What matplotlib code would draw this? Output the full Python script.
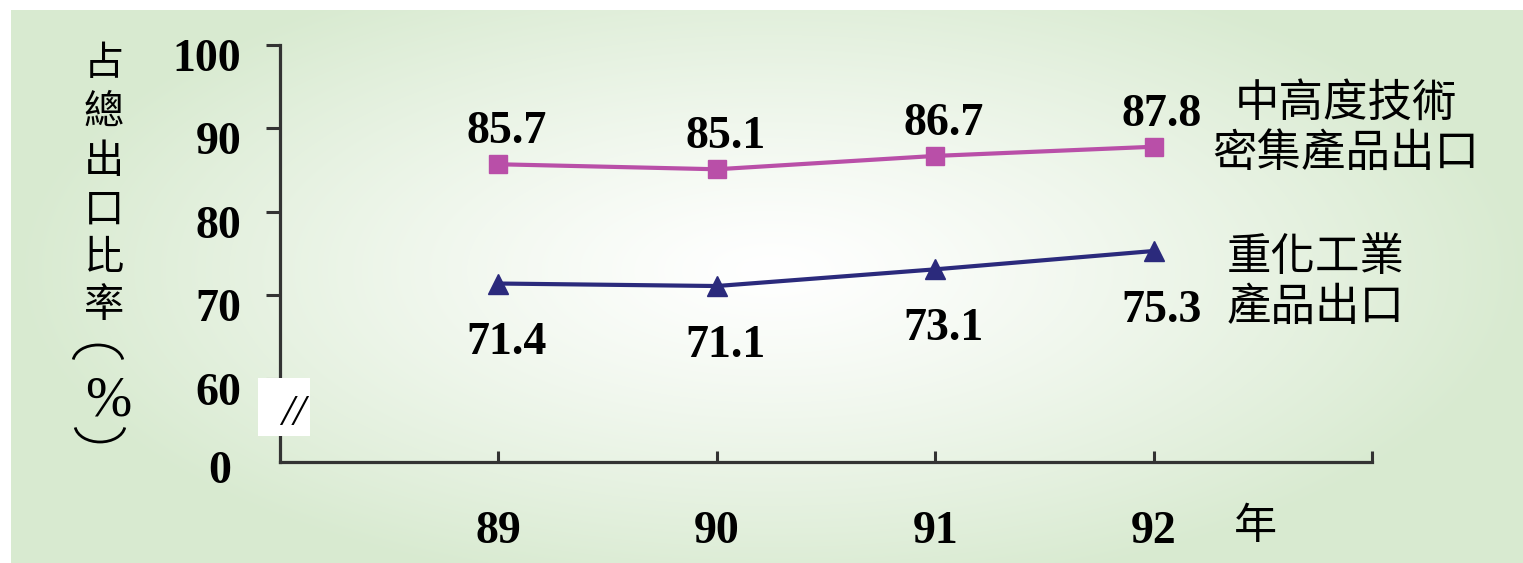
import numpy as np
import matplotlib
matplotlib.use('Agg')
import matplotlib.pyplot as plt
from matplotlib.patches import Rectangle, Arc
import matplotlib.transforms as mtransforms

years = [89, 90, 91, 92]
high_tech = [85.7, 85.1, 86.7, 87.8]
heavy_ind = [71.4, 71.1, 73.1, 75.3]
high_tech_name = '中高度技術\n密集產品出口'
heavy_ind_name = '重化工業\n產品出口'
ytick_vals = [60, 70, 80, 90, 100]
ylabel_chars = ['占', '總', '出', '口', '比', '率']

pink = '#b94fa8'
navy = '#2b2a7c'
serif = ['Liberation Serif', 'DejaVu Serif']
cjk = ['Noto Sans CJK TC', 'DejaVu Sans']

W, H = 1523, 563
fig = plt.figure(figsize=(W / 100, H / 100), dpi=100)
down = mtransforms.ScaledTranslation(0, -10 / 100, fig.dpi_scale_trans)

# radial green/white background
bg = fig.add_axes([11 / W, 0, 1 - 11 / W, 553 / H], zorder=-10)
h, w = 553, 1512
yy, xx = np.mgrid[0:h, 0:w]
t = np.sqrt(((xx - 760) / 760.0) ** 2 + ((yy - 260) / 330.0) ** 2)
t = np.clip(t, 0, 1) ** 1.2
edge = np.array([216, 234, 208]) / 255.0
img = (1 - t)[..., None] * np.ones(3) + t[..., None] * edge
bg.imshow(img, aspect='auto', interpolation='bilinear')
bg.axis('off')

ax = fig.add_axes([280 / W, 101 / H, (1372 - 280) / W, (518 - 101) / H])
ax.patch.set_alpha(0)

ax.plot(years, high_tech, color=pink, lw=3, marker='s', ms=13, zorder=3)
ax.plot(years, heavy_ind, color=navy, lw=3, marker='^', ms=14, zorder=3)

for x, v in zip(years, high_tech):
    ax.annotate(f'{v}', (x, v), xytext=(6, 23), textcoords='offset points',
                ha='center', va='center', fontsize=33, fontweight='bold', family=serif)
for x, v in zip(years, heavy_ind):
    ax.annotate(f'{v}', (x, v), xytext=(6, -43), textcoords='offset points',
                ha='center', va='center', fontsize=33, fontweight='bold', family=serif)

ax.set_xlim(88, 93)
ax.set_ylim(50, 100)
for s in ['top', 'right']:
    ax.spines[s].set_visible(False)
for s in ['left', 'bottom']:
    ax.spines[s].set_linewidth(2.3)
    ax.spines[s].set_color('#333333')

ax.set_yticks(ytick_vals)
ax.set_yticklabels([str(v) for v in ytick_vals], fontsize=33, fontweight='bold', family=serif)
ax.tick_params(axis='y', direction='out', length=10, width=2.2, color='#333333', pad=18)
for lab in ax.get_yticklabels():
    lab.set_transform(lab.get_transform() + down)

ax.set_xticks(years + [93])
ax.set_xticklabels([str(y) for y in years] + [''], fontsize=33, fontweight='bold', family=serif)
ax.tick_params(axis='x', direction='in', length=8, width=2.2, color='#333333', pad=35)

# zero label and axis break
trans = mtransforms.blended_transform_factory(ax.transAxes, ax.transData)
ax.text(-0.055, 50, '0', transform=trans + down, ha='center', va='center',
        fontsize=33, fontweight='bold', family=serif)
ax.add_patch(Rectangle((-22 / 1092, 53.1), 52 / 1092, 7.0, transform=trans,
                       facecolor='white', edgecolor='none', clip_on=False, zorder=5))
ax.text(13 / 1092, 55.8, '//', transform=trans, ha='center', va='center',
        fontsize=32, family=serif, style='italic', zorder=6)

# series names
fig.text(1346 / W, 1 - 128 / H, high_tech_name, ha='center', va='center',
         fontsize=32, family=cjk, linespacing=1.1)
fig.text(1316 / W, 1 - 282 / H, heavy_ind_name, ha='center', va='center',
         fontsize=32, family=cjk, linespacing=1.1)
fig.text(1255 / W, 1 - 527 / H, '年', ha='center', va='center',
         fontsize=31, family=cjk)

# vertical y label: characters stacked, then (%) in vertical form
ylab_y = [64, 112, 161, 210, 259, 306]
for ch, yp in zip(ylabel_chars, ylab_y):
    fig.text(104 / W, 1 - yp / H, ch, ha='center', va='center',
             fontsize=29, family=cjk)
fig.text(108 / W, 1 - 401 / H, '%', ha='center', va='center',
         fontsize=40, family=serif)
fig.patches.append(Arc((98 / W, 1 - 362 / H), 50 / W, 34 / H, theta1=15, theta2=165,
                       transform=fig.transFigure, lw=2, color='black'))
fig.patches.append(Arc((100 / W, 1 - 425 / H), 50 / W, 34 / H, theta1=195, theta2=345,
                       transform=fig.transFigure, lw=2, color='black'))

fig.savefig('out.png', dpi=100)
